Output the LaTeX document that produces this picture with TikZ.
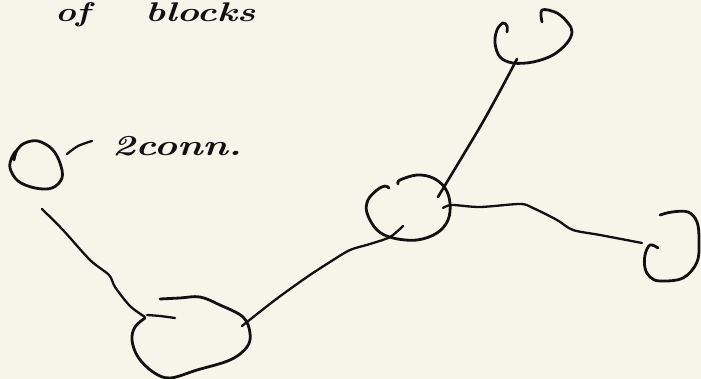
\documentclass[tikz,border=0pt]{standalone}
\usepackage{graphicx}
\definecolor{paper}{HTML}{F7F5E9}
\definecolor{ink}{HTML}{111111}
\begin{document}
\begin{tikzpicture}[x=1pt,y=-1pt,
  blob/.style={draw=ink,line width=2.8pt,line cap=round,line join=round},
  link/.style={draw=ink,line width=2.3pt,line cap=round,line join=round},
  hand/.style={text=ink,inner sep=0pt,font=\fontsize{27}{30}\selectfont\bfseries\itshape}]
  % page
  \fill[paper] (0,0) rectangle (701,379);
  \useasboundingbox (0,0) rectangle (701,379);

  % heading words
  \node[hand,anchor=base west] (of) at (55,22) {\scalebox{1.3}[1]{of}};
  \node[hand,anchor=base west] (blocks) at (145,22) {\scalebox{1.4}[1]{blocks}};

  % lone block with its label
  \draw[blob] plot[smooth,tension=0.6] coordinates {(14,160) (17,150) (25,143) (38,141) (52,149) (60,163) (62,178) (52,188) (35,188) (18,181) (10,168) (12,157) (16,151)};
  \coordinate (lone) at (42,209);
  \draw[link] plot[smooth] coordinates {(67,154) (78,146) (92,141)};
  \node[hand,anchor=base west,font=\fontsize{29}{32}\selectfont\bfseries\itshape] (tag) at (112,156) {\scalebox{1.35}[1]{2conn.}};

  % bottom block
  \draw[blob] plot[smooth,tension=0.6] coordinates {(160,299) (180,298) (200,297) (220,305) (243,317) (250,333) (247,347) (230,360) (197,370) (170,378) (153,372) (138,357) (132,340) (135,327) (145,318)};
  \draw[link] plot[smooth] coordinates {(147,315) (160,316) (175,318)};
  \coordinate (low) at (145,317);
  \coordinate (lowR) at (242,326);

  % middle block
  \draw[blob] plot[smooth,tension=0.6] coordinates {(398,184) (400,180) (417,175) (433,178) (445,188) (450,203) (448,220) (437,233) (417,240) (393,238) (377,230) (367,213) (368,200) (377,190) (385,186) (389,188)};
  \coordinate (midL) at (403,226);
  \coordinate (midT) at (438,197);
  \coordinate (midR) at (443,208);

  % top block
  \draw[blob] plot[smooth,tension=0.6] coordinates {(542,22) (542,10) (557,13) (568,23) (572,32) (567,43) (553,55) (533,62) (513,63) (500,57) (495,43) (497,30) (503,23) (507,26) (507,32)};
  \coordinate (top) at (517,59);

  % right block
  \draw[blob] plot[smooth,tension=0.6] coordinates {(658,248) (650,245) (645,255) (645,268) (650,277) (660,281) (683,278) (697,262) (699,240) (697,222) (688,212) (672,212) (660,215)};
  \coordinate (right) at (642,243);

  % connectors
  \draw[link] plot[smooth] coordinates {(lone) (63,230) (90,260) (109,275) (115,287) (130,306) (low)};
  \draw[link] plot[smooth] coordinates {(lowR) (275,300) (307,277) (330,262) (350,250) (370,244) (390,237) (midL)};
  \draw[link,line width=2.6pt] plot[smooth] coordinates {(midT) (450,177) (480,127) (500,91) (top)};
  \draw[link] plot[smooth] coordinates {(midR) (452,205) (480,207) (520,204) (533,208) (557,220) (573,230) (600,235) (right)};
\end{tikzpicture}
\end{document}
